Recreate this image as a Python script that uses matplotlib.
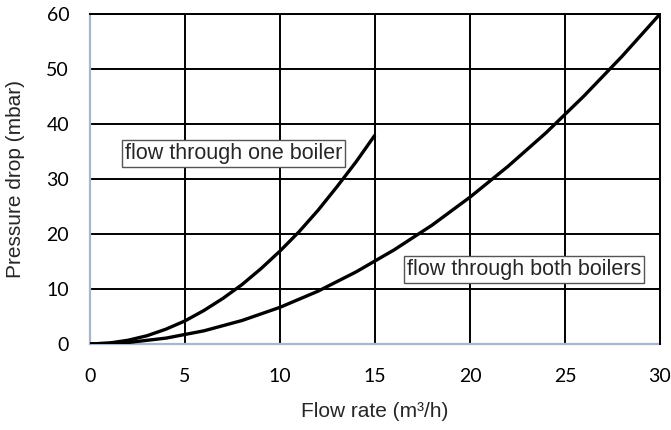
import matplotlib
matplotlib.use("Agg")
import matplotlib.pyplot as plt

# flow rate (m3/h) and pressure drop (mbar)
one_boiler_flow = [0, 1, 2, 3, 4, 5, 6, 7, 8, 9, 10, 11, 12, 13, 14, 15]
one_boiler_dp = [0, 0.17, 0.68, 1.5, 2.7, 4.2, 6.1, 8.3, 10.8, 13.7,
                 16.9, 20.4, 24.3, 28.6, 33.1, 38.0]

both_boilers_flow = [0, 2, 4, 6, 8, 10, 12, 14, 16, 18, 20, 22, 24, 26, 28, 30]
both_boilers_dp = [0, 0.27, 1.07, 2.4, 4.27, 6.67, 9.6, 13.1, 17.1, 21.6,
                   26.7, 32.3, 38.4, 45.1, 52.3, 60.0]

x_ticks = [0, 5, 10, 15, 20, 25, 30]
y_ticks = [0, 10, 20, 30, 40, 50, 60]

SPINE = "#a9b5c9"
TEXT = "#262626"
LABEL_FONT = "Liberation Sans"
TICK_FONT = "Lato"

fig = plt.figure(figsize=(6.71, 4.30), dpi=100)
ax = fig.add_axes([0.1341, 0.2, 0.8495, 0.7674])

ax.plot(one_boiler_flow, one_boiler_dp, color="black", lw=2.4,
        solid_capstyle="butt", solid_joinstyle="round", zorder=3)
ax.plot(both_boilers_flow, both_boilers_dp, color="black", lw=2.4,
        solid_capstyle="butt", solid_joinstyle="round", zorder=3)

ax.set_xlim(0, 30)
ax.set_ylim(0, 60)
ax.set_xticks(x_ticks)
ax.set_yticks(y_ticks)
ax.grid(True, color="black", lw=1.4, zorder=1)
ax.set_axisbelow(True)

for side in ("top", "right"):
    ax.spines[side].set_color("black")
    ax.spines[side].set_linewidth(1.4)
for side in ("left", "bottom"):
    ax.spines[side].set_color(SPINE)
    ax.spines[side].set_linewidth(1.6)
    ax.spines[side].set_zorder(2)

ax.tick_params(length=0, labelcolor="black")
ax.tick_params(axis="x", pad=17)
ax.tick_params(axis="y", pad=15)
for lab in ax.get_xticklabels() + ax.get_yticklabels():
    lab.set_fontfamily(TICK_FONT)
    lab.set_fontsize(14)

ax.set_xlabel("Flow rate (m³/h)", family=LABEL_FONT, fontsize=15,
              color=TEXT, va="center")
ax.xaxis.set_label_coords(0.5, -0.206)
ax.set_ylabel("Pressure drop (mbar)", family=LABEL_FONT, fontsize=15,
              color=TEXT, va="center")
ax.yaxis.set_label_coords(-0.13, 0.5)

box = dict(boxstyle="square,pad=0.15", facecolor="white", edgecolor="#555555",
           lw=1.0)
ax.text(7.55, 34.6, "flow through one boiler", ha="center", va="center",
        family=LABEL_FONT, fontsize=15.5, color=TEXT, bbox=box, zorder=4)
ax.text(22.84, 13.5, "flow through both boilers", ha="center", va="center",
        family=LABEL_FONT, fontsize=15.5, color=TEXT, bbox=box, zorder=4)

fig.savefig("out.png", dpi=100)
